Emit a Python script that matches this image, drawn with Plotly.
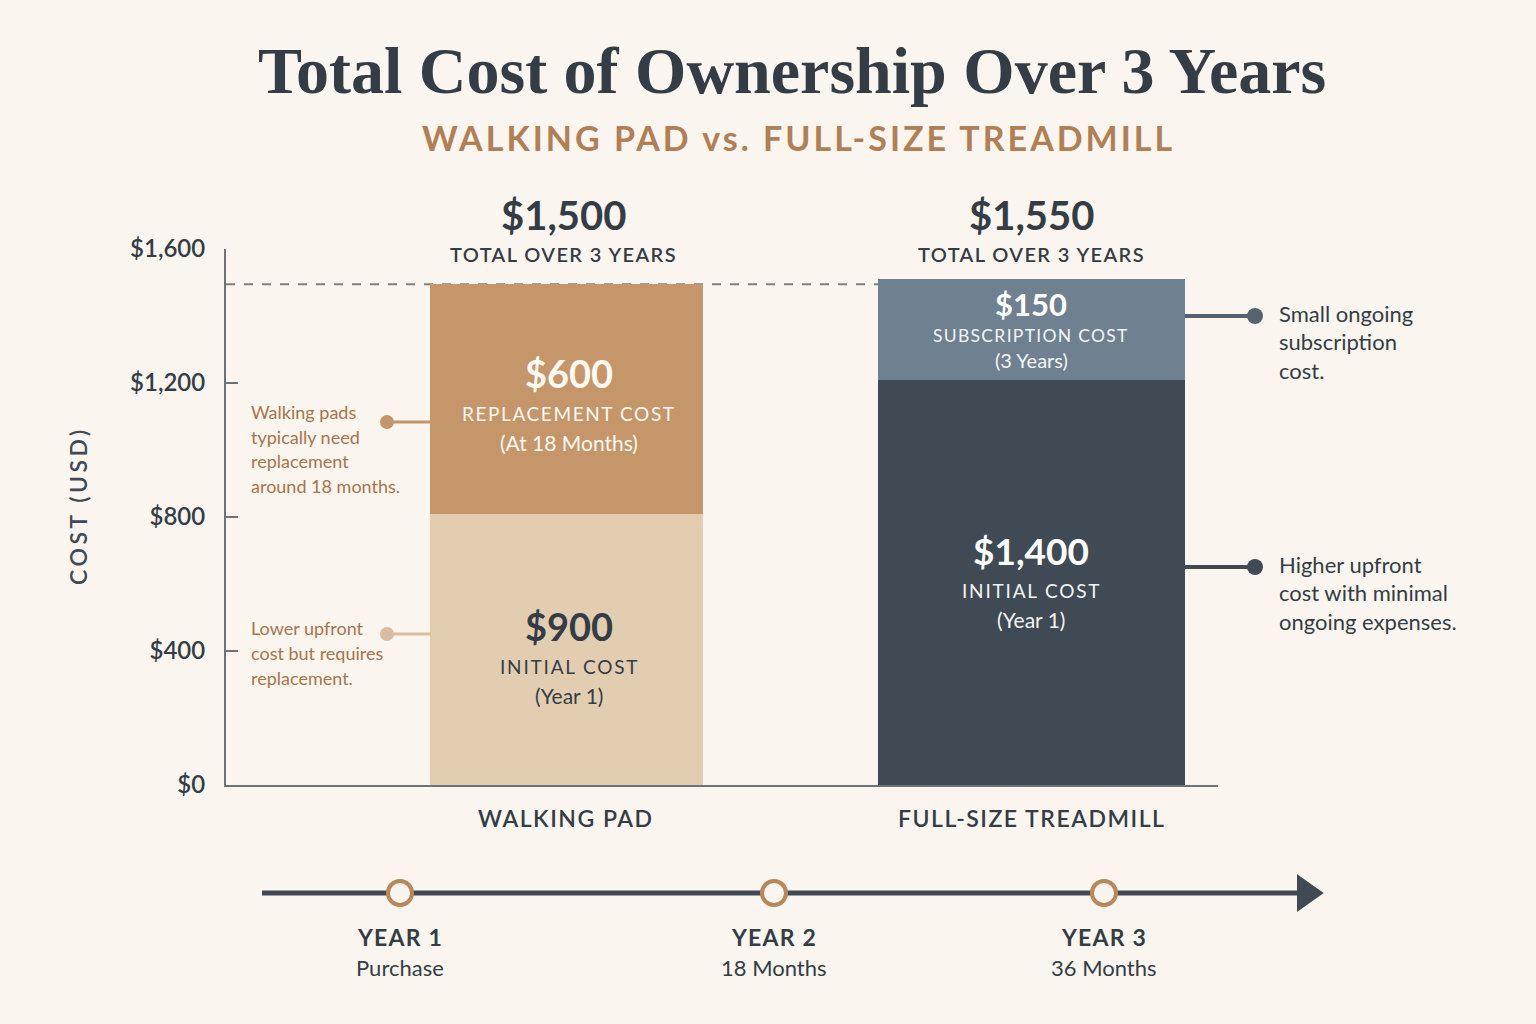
import plotly.graph_objects as go

# ---------------- data ----------------
categories = ["WALKING PAD", "FULL-SIZE TREADMILL"]
# segment heights as drawn in the reference (USD scale)
initial_drawn = [810, 1210]
ongoing_drawn = [685, 300]
# stated values (labels)
initial_labels = ["$900", "$1,400"]
ongoing_labels = ["$600", "$150"]
ongoing_names = ["REPLACEMENT COST", "SUBSCRIPTION COST"]
ongoing_notes = ["(At 18 Months)", "(3 Years)"]
initial_notes = ["(Year 1)", "(Year 1)"]
totals = ["$1,500", "$1,550"]
y_ticks = [0, 400, 800, 1200, 1600]
y_tick_text = ["$0", "$400", "$800", "$1,200", "$1,600"]
milestones = ["YEAR 1", "YEAR 2", "YEAR 3"]
milestone_notes = ["Purchase", "18 Months", "36 Months"]
left_notes = [["Walking pads", "typically need", "replacement", "around 18 months."],
              ["Lower upfront", "cost but requires", "replacement."]]
right_notes = [["Small ongoing", "subscription", "cost."],
               ["Higher upfront", "cost with minimal", "ongoing expenses."]]

# ---------------- style ----------------
BG = "#FAF5EF"
DARK = "#343D46"
TAN = "#B07F55"
NOTE = "#A8744A"
C_INIT = ["#E3CDB1", "#3F4A54"]
C_ONG = ["#C4966A", "#6F8190"]
AXIS = "#6E7378"
SANS = "Lato, 'Open Sans', sans-serif"
SERIF = "'Liberation Serif', 'DejaVu Serif', serif"
W, H = 1536, 1024


def px(x):
    return x / W


def py(y):
    return 1 - y / H


def ls(s, sp):
    return f'<span style="letter-spacing:{sp}px">{s}</span>'


annotations = []


def txt(x, y, s, size, color=DARK, bold=False, anchor="center", font=SANS, sp=0, angle=0, weight=None):
    if sp:
        s = ls(s, sp)
    if bold:
        s = f"<b>{s}</b>"
    f = dict(family=font, size=size, color=color)
    if weight:
        f["weight"] = weight
    annotations.append(dict(x=px(x), y=py(y), xref="paper", yref="paper", text=s, showarrow=False,
                            xanchor=anchor, yanchor="middle", textangle=angle, font=f))


fig = go.Figure()
xpos = [0, 1]
widths = [0.587, 0.660]
fig.add_trace(go.Bar(x=xpos, y=initial_drawn, width=widths, marker=dict(color=C_INIT, line=dict(width=0)),
                     hoverinfo="skip", showlegend=False))
fig.add_trace(go.Bar(x=xpos, y=ongoing_drawn, width=widths, marker=dict(color=C_ONG, line=dict(width=0)),
                     hoverinfo="skip", showlegend=False))

shapes = []
# dashed reference line at walking pad total
wp_total = initial_drawn[0] + ongoing_drawn[0]
shapes.append(dict(type="line", xref="paper", yref="y", x0=px(226), x1=px(878), y0=wp_total, y1=wp_total,
                   line=dict(color="#7C8085", width=2, dash="dash"), layer="below"))

# ---- title ----
txt(792, 70, "<b>Total Cost of Ownership Over 3 Years</b>", 66, DARK, font=SERIF)
txt(798, 137, "WALKING PAD vs. FULL-SIZE TREADMILL", 34, TAN, bold=True, sp=3)

# ---- totals above bars ----
tot_cx = [563, 1031]
for cx, t in zip(tot_cx, totals):
    txt(cx, 215, t, 40, DARK, bold=True)
    txt(cx, 254, "TOTAL OVER 3 YEARS", 20, DARK, sp=1.4, weight=600)

# ---- in-bar labels ----
LIGHT = "#FFF9F2"
txt(569, 373, ongoing_labels[0], 38, LIGHT, bold=True)
txt(569, 413, ongoing_names[0], 19, LIGHT, sp=1.6)
txt(569, 442, ongoing_notes[0], 21, LIGHT)
txt(569, 626, initial_labels[0], 38, DARK, bold=True)
txt(569, 666, "INITIAL COST", 19, DARK, sp=1.8)
txt(569, 695, initial_notes[0], 21, DARK)

txt(1031, 304, ongoing_labels[1], 31, "#FFFFFF", bold=True)
txt(1031, 335, ongoing_names[1], 17.5, "#F4F4F4", sp=1.3)
txt(1031, 360, ongoing_notes[1], 20, "#F4F4F4")
txt(1031, 550, initial_labels[1], 37, "#FFFFFF", bold=True)
txt(1031, 590, "INITIAL COST", 19, "#F4F4F4", sp=1.8)
txt(1031, 619, initial_notes[1], 21, "#F4F4F4")

# ---- category labels ----
for cx, c in zip([566, 1031], categories):
    txt(cx, 818, c, 23, DARK, sp=1.5, weight=600)

# ---- y axis title ----
txt(78, 506, "COST (USD)", 23, "#3F4A54", sp=3.5, angle=-90, weight=600)

# ---- left notes with connectors ----
left_y = [[412, 437, 461, 486], [628, 653, 678]]
left_dot_y = [422, 634]
left_dot_c = ["#C4966A", "#D8BEA0"]
for lines, ys, dy, dc in zip(left_notes, left_y, left_dot_y, left_dot_c):
    for s, yy in zip(lines, ys):
        txt(249, yy, s, 18, NOTE, anchor="left")
    shapes.append(dict(type="line", xref="paper", yref="paper", x0=px(387), x1=px(431), y0=py(dy), y1=py(dy),
                       line=dict(color=dc, width=3)))
    shapes.append(dict(type="circle", xref="paper", yref="paper", x0=px(380), x1=px(394), y0=py(dy - 7), y1=py(dy + 7),
                       fillcolor=dc, line=dict(width=0)))

# ---- right notes with connectors ----
right_y = [[313, 341, 370], [564, 592, 621]]
right_dot_y = [316, 567]
right_dot_c = ["#56626D", "#3F4A54"]
for lines, ys, dy, dc in zip(right_notes, right_y, right_dot_y, right_dot_c):
    for s, yy in zip(lines, ys):
        txt(1277, yy, s, 22, DARK, anchor="left")
    shapes.append(dict(type="line", xref="paper", yref="paper", x0=px(1185), x1=px(1255), y0=py(dy), y1=py(dy),
                       line=dict(color=dc, width=4)))
    shapes.append(dict(type="circle", xref="paper", yref="paper", x0=px(1247), x1=px(1263), y0=py(dy - 8), y1=py(dy + 8),
                       fillcolor=dc, line=dict(width=0)))

# ---- timeline ----
TL = "#3F4A54"
shapes.append(dict(type="line", xref="paper", yref="paper", x0=px(262), x1=px(1302), y0=py(893), y1=py(893),
                   line=dict(color=TL, width=5)))
shapes.append(dict(type="path", xref="paper", yref="paper",
                   path=f"M {px(1298)} {py(876)} L {px(1322)} {py(893)} L {px(1298)} {py(910)} Z",
                   fillcolor=TL, line=dict(color=TL, width=2)))
tl_x = [400, 774, 1104]
for xx, m, n in zip(tl_x, milestones, milestone_notes):
    shapes.append(dict(type="circle", xref="paper", yref="paper", x0=px(xx - 12), x1=px(xx + 12),
                       y0=py(893 - 12), y1=py(893 + 12), fillcolor=BG, line=dict(color="#B8875A", width=4)))
    txt(xx, 937, m, 23, DARK, bold=True, sp=1.2)
    txt(xx, 967, n, 22, DARK)

fig.update_layout(
    width=W, height=H, margin=dict(l=0, r=0, t=0, b=0, autoexpand=False),
    paper_bgcolor=BG, plot_bgcolor=BG,
    barmode="stack", bargap=0,
    shapes=shapes, annotations=annotations,
    xaxis=dict(domain=[px(226), px(1218)], range=[-0.732, 1.401], showgrid=False, zeroline=False,
               showticklabels=False, ticks="", showline=True, linecolor=AXIS, linewidth=2, fixedrange=True,
               automargin=False),
    yaxis=dict(domain=[py(785), py(249)], range=[0, 1600], tickvals=y_ticks, ticktext=y_tick_text,
               showgrid=False, zeroline=False, showline=True, linecolor=AXIS, linewidth=2,
               ticks="inside", ticklen=12, tickwidth=2, tickcolor=AXIS, ticklabelstandoff=14,
               tickfont=dict(family=SANS, size=24, color=DARK, weight=600), fixedrange=True,
               automargin=False),
    font=dict(family=SANS, color=DARK),
)

fig.write_html("out.html", config={"displayModeBar": False})
